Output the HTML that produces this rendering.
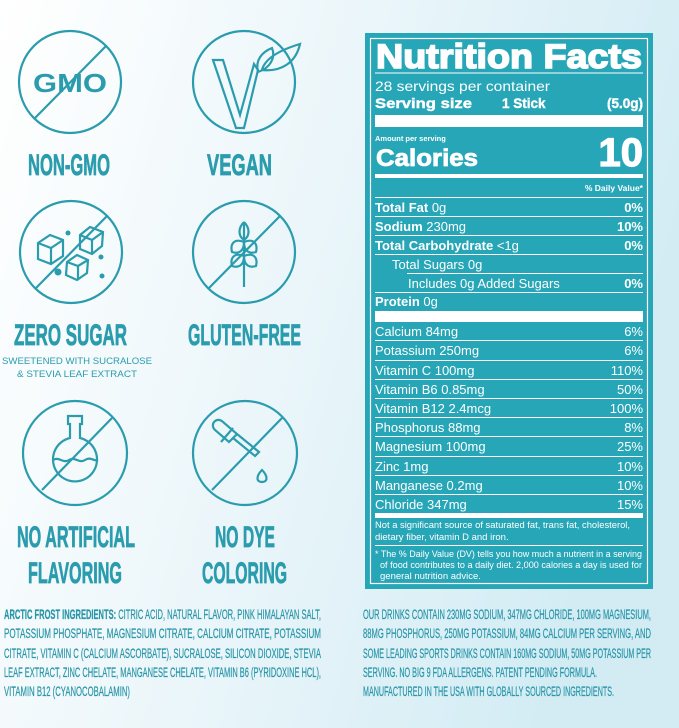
<!DOCTYPE html>
<html><head><meta charset="utf-8"><style>
html,body{margin:0;padding:0;width:679px;height:728px;overflow:hidden}
svg{display:block}
text{font-family:"Liberation Sans",sans-serif}
</style></head><body>
<svg width="679" height="728" viewBox="0 0 679 728" xmlns="http://www.w3.org/2000/svg">
<defs>
<linearGradient id="bg" x1="0" y1="0" x2="1" y2="0.3">
<stop offset="0" stop-color="#ffffff"/><stop offset="0.5" stop-color="#ebf6fa"/><stop offset="1" stop-color="#d3ecf4"/>
</linearGradient>
</defs>
<rect width="679" height="728" fill="url(#bg)"/>

<g fill="none" stroke="#2a9cad" stroke-width="2.2">
 <circle cx="70" cy="82" r="51"/><line x1="35" y1="118" x2="106" y2="46"/>
 <circle cx="244" cy="82" r="51"/>
 <path d="M213 60 L223 60 L240 115 L254 64 L258 70 L244 128 L236 128 Z"/>
 <path d="M258 72 C255 60 262 52 272 48 C276 58 270 68 258 72 Z M262 70 C265 58 280 50 300 44 C296 62 282 72 262 70 Z"/>
 <circle cx="71" cy="252" r="51"/><line x1="36" y1="288" x2="107" y2="216"/>
 <path d="M38 243 l12 -8 l13 5 l0 16 l-12 8 l-13 -5 Z M38 243 l13 5 l12 -8 M51 248 l0 16"/>
 <path d="M80 235 l10 -8 l13 5 l-1 14 l-10 8 l-12 -5 Z M80 235 l12 5 l11 -8 M92 240 l0 14"/>
 <path d="M67 262 l10 -7 l11 5 l-1 13 l-10 7 l-11 -5 Z M67 262 l11 4 l10 -6 M78 266 l0 13"/>
 <circle cx="244" cy="252" r="51"/><line x1="209" y1="288" x2="280" y2="216"/>
 <path d="M244 222 l0 65 M244 222 c-6 6 -6 14 0 18 c6 -4 6 -12 0 -18 M244 242 c-10 -4 -14 2 -12 10 c6 2 12 0 12 -10 M244 242 c10 -4 14 2 12 10 c-6 2 -12 0 -12 -10 M244 256 c-10 -4 -14 2 -12 10 c6 2 12 0 12 -10 M244 256 c10 -4 14 2 12 10 c-6 2 -12 0 -12 -10"/>
 <circle cx="75" cy="453" r="52"/><line x1="42" y1="490" x2="112" y2="418"/>
 <path d="M68 416 l14 0 l0 8 l-2 0 l0 14 a22 22 0 1 1 -10 0 l0 -14 l-2 0 Z"/>
 <path d="M53 460 c6 -4 10 4 16 0 c6 -4 10 4 16 0 c6 -4 9 2 13 0"/>
 <circle cx="245" cy="453" r="52"/><line x1="212" y1="490" x2="282" y2="418"/>
 <path d="M215 430 c-6 -6 2 -14 8 -8 l14 12 l-8 8 Z M233 428 l-12 14 M237 434 l22 18 l-4 4 l-22 -18"/>
 <path d="M262 470 c-6 6 -6 12 0 12 c6 0 6 -6 0 -12 Z"/>
</g>
<g fill="#2a9cad">
 <circle cx="68" cy="233" r="2.5"/><circle cx="101" cy="257" r="2.5"/><circle cx="58" cy="272" r="3.5"/><circle cx="102" cy="276" r="2.5"/>
 <text x="70" y="92" font-size="26" font-weight="bold" text-anchor="middle" textLength="74" lengthAdjust="spacingAndGlyphs">GMO</text>
</g>

<g fill="#2a9cad" stroke="#2a9cad" stroke-width="0.8" font-weight="bold">
 <text x="28" y="175" font-size="30" textLength="82" lengthAdjust="spacingAndGlyphs">NON-GMO</text>
 <text x="207" y="175" font-size="30" textLength="65" lengthAdjust="spacingAndGlyphs">VEGAN</text>
 <text x="14" y="345" font-size="30" textLength="113" lengthAdjust="spacingAndGlyphs">ZERO SUGAR</text>
 <text x="188" y="345" font-size="30" textLength="113" lengthAdjust="spacingAndGlyphs">GLUTEN-FREE</text>
 <text x="17" y="547" font-size="30" textLength="118" lengthAdjust="spacingAndGlyphs">NO ARTIFICIAL</text>
 <text x="28" y="583" font-size="30" textLength="94" lengthAdjust="spacingAndGlyphs">FLAVORING</text>
 <text x="215" y="547" font-size="30" textLength="60" lengthAdjust="spacingAndGlyphs">NO DYE</text>
 <text x="202" y="583" font-size="30" textLength="85" lengthAdjust="spacingAndGlyphs">COLORING</text>
</g>
<g fill="#2a9cad" font-size="9">
 <text x="2" y="364" textLength="150" lengthAdjust="spacingAndGlyphs">SWEETENED WITH SUCRALOSE</text>
 <text x="17" y="377" textLength="120" lengthAdjust="spacingAndGlyphs">&amp;  STEVIA LEAF EXTRACT</text>
</g>

<g fill="#2996a8" stroke="#2996a8" stroke-width="0.25" font-size="14">
 <text x="4" y="619" textLength="317" lengthAdjust="spacingAndGlyphs"><tspan font-weight="bold">ARCTIC FROST INGREDIENTS:</tspan> CITRIC ACID, NATURAL FLAVOR, PINK HIMALAYAN SALT,</text>
 <text x="4" y="638" textLength="317" lengthAdjust="spacingAndGlyphs">POTASSIUM  PHOSPHATE,  MAGNESIUM  CITRATE,  CALCIUM  CITRATE,  POTASSIUM</text>
 <text x="4" y="658" textLength="317" lengthAdjust="spacingAndGlyphs">CITRATE, VITAMIN C (CALCIUM ASCORBATE), SUCRALOSE, SILICON DIOXIDE, STEVIA</text>
 <text x="4" y="677" textLength="317" lengthAdjust="spacingAndGlyphs">LEAF EXTRACT, ZINC CHELATE, MANGANESE CHELATE, VITAMIN B6 (PYRIDOXINE HCL),</text>
 <text x="4" y="696" textLength="126" lengthAdjust="spacingAndGlyphs">VITAMIN B12 (CYANOCOBALAMIN)</text>
 <text x="363" y="619" textLength="288" lengthAdjust="spacingAndGlyphs">OUR DRINKS CONTAIN 230MG SODIUM, 347MG CHLORIDE,  100MG MAGNESIUM,</text>
 <text x="363" y="638" textLength="288" lengthAdjust="spacingAndGlyphs">88MG PHOSPHORUS, 250MG POTASSIUM, 84MG CALCIUM PER SERVING, AND</text>
 <text x="363" y="658" textLength="288" lengthAdjust="spacingAndGlyphs">SOME LEADING SPORTS DRINKS CONTAIN 160MG SODIUM, 50MG POTASSIUM PER</text>
 <text x="363" y="677" textLength="234" lengthAdjust="spacingAndGlyphs">SERVING. NO BIG 9 FDA ALLERGENS. PATENT PENDING FORMULA.</text>
 <text x="363" y="696" textLength="251" lengthAdjust="spacingAndGlyphs">MANUFACTURED IN THE USA WITH GLOBALLY SOURCED INGREDIENTS.</text>
</g>

<rect x="365" y="33" width="288" height="556" fill="#27a6b7"/>
<rect x="370.5" y="38.5" width="277" height="545" fill="none" stroke="#ffffff" stroke-width="1.2"/>
<g fill="#ffffff">
 <text x="376" y="68" font-size="34" font-weight="bold" stroke="#ffffff" stroke-width="1.6" textLength="266" lengthAdjust="spacingAndGlyphs">Nutrition Facts</text>
 <rect x="375" y="72.5" width="268" height="1"/>
 <text x="375" y="91" font-size="14" textLength="175" lengthAdjust="spacingAndGlyphs">28 servings per container</text>
 <text x="375" y="108" font-size="13.5" font-weight="bold" stroke="#fff" stroke-width="0.4" textLength="97" lengthAdjust="spacingAndGlyphs">Serving  size</text>
 <text x="502" y="108" font-size="13.5" font-weight="bold" stroke="#fff" stroke-width="0.4">1 Stick</text>
 <text x="643" y="108" font-size="13.5" font-weight="bold" stroke="#fff" stroke-width="0.4" text-anchor="end">(5.0g)</text>
 <rect x="375" y="115" width="268" height="12"/>
 <text x="375" y="141" font-size="7.5" font-weight="bold">Amount per serving</text>
 <text x="376" y="166" font-size="24" font-weight="bold" stroke="#fff" stroke-width="0.8" textLength="102" lengthAdjust="spacingAndGlyphs">Calories</text>
 <text x="643" y="166" font-size="40" font-weight="bold" stroke="#fff" stroke-width="1.2" text-anchor="end">10</text>
 <rect x="375" y="174" width="268" height="4"/>
 <text x="643" y="191" font-size="8.5" font-weight="bold" text-anchor="end">% Daily Value*</text>
</g>
<g fill="#ffffff" font-size="13">
 <rect x="375" y="197" width="268" height="1"/>
 <text x="375" y="212"><tspan font-weight="bold">Total  Fat</tspan> 0g</text><text x="643" y="212" text-anchor="end" font-weight="bold">0%</text>
 <rect x="375" y="216" width="268" height="1"/>
 <text x="375" y="231"><tspan font-weight="bold">Sodium</tspan>  230mg</text><text x="643" y="231" text-anchor="end" font-weight="bold">10%</text>
 <rect x="375" y="235" width="268" height="1"/>
 <text x="375" y="250"><tspan font-weight="bold">Total  Carbohydrate</tspan>  &lt;1g</text><text x="643" y="250" text-anchor="end" font-weight="bold">0%</text>
 <rect x="375" y="254" width="268" height="1"/>
 <text x="392" y="269">Total Sugars 0g</text>
 <rect x="407" y="273" width="236" height="1"/>
 <text x="408" y="288">Includes 0g Added Sugars</text><text x="643" y="288" text-anchor="end" font-weight="bold">0%</text>
 <rect x="375" y="292" width="268" height="1"/>
 <text x="375" y="306"><tspan font-weight="bold">Protein</tspan>  0g</text>
 <rect x="375" y="311" width="268" height="11"/>
 <text x="375" y="336">Calcium 84mg</text><text x="643" y="336" text-anchor="end">6%</text>
 <rect x="375" y="340" width="268" height="1"/>
 <text x="375" y="355">Potassium 250mg</text><text x="643" y="355" text-anchor="end">6%</text>
 <rect x="375" y="360" width="268" height="1"/>
 <text x="375" y="375">Vitamin C 100mg</text><text x="643" y="375" text-anchor="end">110%</text>
 <rect x="375" y="379" width="268" height="1"/>
 <text x="375" y="394">Vitamin B6 0.85mg</text><text x="643" y="394" text-anchor="end">50%</text>
 <rect x="375" y="398" width="268" height="1"/>
 <text x="375" y="413">Vitamin B12 2.4mcg</text><text x="643" y="413" text-anchor="end">100%</text>
 <rect x="375" y="417" width="268" height="1"/>
 <text x="375" y="432">Phosphorus 88mg</text><text x="643" y="432" text-anchor="end">8%</text>
 <rect x="375" y="436" width="268" height="1"/>
 <text x="375" y="451">Magnesium 100mg</text><text x="643" y="451" text-anchor="end">25%</text>
 <rect x="375" y="456" width="268" height="1"/>
 <text x="375" y="471">Zinc 1mg</text><text x="643" y="471" text-anchor="end">10%</text>
 <rect x="375" y="475" width="268" height="1"/>
 <text x="375" y="490">Manganese 0.2mg</text><text x="643" y="490" text-anchor="end">10%</text>
 <rect x="375" y="494" width="268" height="1"/>
 <text x="375" y="509">Chloride 347mg</text><text x="643" y="509" text-anchor="end">15%</text>
 <rect x="375" y="513" width="268" height="5"/>
</g>
<g fill="#ffffff" font-size="9.5">
 <text x="375" y="528" textLength="255" lengthAdjust="spacingAndGlyphs">Not a significant source of saturated fat, trans fat, cholesterol,</text>
 <text x="375" y="540">dietary fiber, vitamin D and iron.</text>
 <rect x="375" y="545" width="268" height="1"/>
 <text x="375" y="557" textLength="267" lengthAdjust="spacingAndGlyphs">* The % Daily Value (DV) tells you how much a nutrient in a serving</text>
 <text x="380" y="568" textLength="262" lengthAdjust="spacingAndGlyphs">of food contributes to a daily diet. 2,000 calories a day is used for</text>
 <text x="380" y="579">general nutrition advice.</text>
</g>
</svg>
</body></html>
